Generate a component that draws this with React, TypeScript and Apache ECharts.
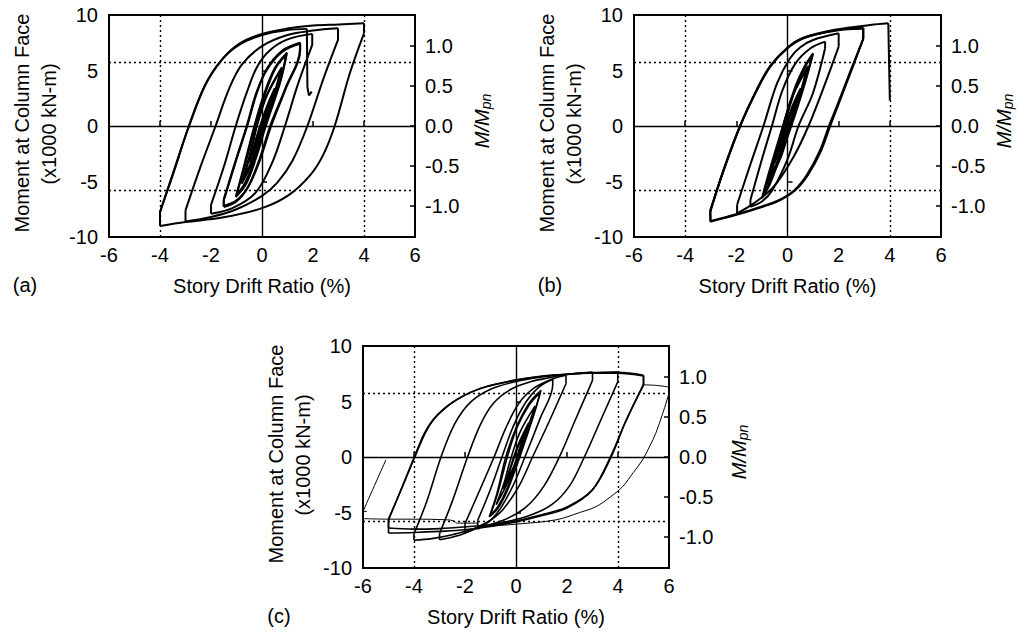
import React, { useEffect, useRef } from "react";
import * as echarts from "echarts";

// ---------- axis / reference values ----------
const X_TICKS = { min: -6, max: 6, interval: 2 };
const Y_TICKS = { min: -10, max: 10, interval: 5 };
const MPN = 7.2; // x1000 kN-m, moment that corresponds to M/Mpn = 1
const RIGHT_TICKS = [1.0, 0.5, 0.0, -0.5, -1.0];
const DOTTED_X = [-4, 4];
const DOTTED_RATIO = [0.8, -0.8];

// ---------- panel (a) ----------
const A_c0375 = [[-0.38,-2.5],[-0.12,-0.6],[0.1,1.0],[0.38,2.6],[0.12,0.7],[-0.1,-0.9],[-0.38,-2.5]];
const A_c05 = [[-0.5,-3.3],[-0.2,-0.9],[0.15,1.5],[0.5,3.4],[0.18,1.0],[-0.15,-1.3],[-0.5,-3.3]];
const A_c075a = [[-0.78,-5.0],[-0.45,-2.5],[-0.2,0],[0.2,2.8],[0.75,5.1],[0.45,2.6],[0.08,0],[-0.3,-2.6],[-0.78,-5.0]];
const A_c075b = [[-0.8,-5.2],[-0.5,-2.8],[-0.25,-0.3],[0.15,2.6],[0.78,5.3],[0.5,3.0],[0.12,0.2],[-0.28,-2.8],[-0.8,-5.2]];
const A_c1a = [[-1.03,-6.4],[-0.75,-4.0],[-0.3,0],[0.1,3.0],[0.5,5.2],[0.98,6.6],[0.72,4.0],[0.15,0],[-0.25,-3.0],[-0.62,-5.2],[-1.03,-6.4]];
const A_c1b = [[-1.0,-6.2],[-0.7,-3.8],[-0.26,0],[0.15,3.1],[0.55,5.3],[0.95,6.4],[0.68,3.8],[0.12,0],[-0.3,-3.1],[-0.66,-5.1],[-1.0,-6.2]];
const A_c15a = [[-1.5,-6.7],[-1.0,-3.0],[-0.58,0],[-0.2,3.0],[0.2,5.2],[0.8,6.8],[1.49,7.5],[1.49,7.0],[0.9,3.3],[0.32,0],[-0.1,-3.0],[-0.55,-5.5],[-1.0,-6.8],[-1.5,-7.3],[-1.5,-6.7]];
const A_c15b = [[-1.5,-6.6],[-1.02,-3.0],[-0.6,0],[-0.22,3.0],[0.2,5.1],[0.8,6.7],[1.5,7.4],[1.5,6.9],[0.92,3.3],[0.36,0],[-0.07,-3.0],[-0.52,-5.4],[-1.0,-6.7],[-1.5,-7.2],[-1.5,-6.6]];
const A_c2 = [[-2.0,-7.1],[-1.5,-3.7],[-1.03,0],[-0.6,3.0],[-0.2,5.3],[0.3,6.8],[1.0,7.8],[1.97,8.3],[1.97,7.3],[1.4,3.7],[0.9,0],[0.4,-3.3],[-0.25,-6.0],[-1.16,-7.4],[-2.0,-7.9],[-2.0,-7.1]];
const A_c3 = [[-3.0,-7.6],[-2.4,-3.6],[-1.82,0],[-1.3,3.3],[-0.8,5.5],[0,7.2],[1,8.2],[2,8.6],[2.98,8.8],[2.98,7.75],[2.4,4.2],[1.78,0],[1.2,-3.1],[0.6,-5.1],[0,-6.3],[-1,-7.5],[-2,-8.2],[-3.0,-8.6],[-3.0,-7.6]];
const A_c4 = [[-4.0,-7.75],[-3.5,-4.3],[-2.86,0],[-2.2,3.8],[-1.56,6.0],[-0.9,7.4],[0,8.3],[1.06,8.8],[2,9.05],[3,9.15],[4.0,9.25],[4.0,8.35],[3.45,4.8],[2.85,0],[2.4,-2.6],[1.9,-4.4],[1.06,-6.2],[0,-7.4],[-1.56,-8.25],[-3.0,-8.65],[-4.0,-9.0],[-4.0,-7.75]];
const A_final = [[-4.0,-7.75],[-3.45,-4.1],[-2.9,-0.2],[-2.25,3.6],[-1.6,5.9],[-0.9,7.3],[0,8.2],[1.0,8.65],[1.76,8.75],[1.78,3.5],[1.84,2.75],[1.95,3.1]];

// ---------- panel (b) ----------
const B_c0375 = [[-0.36,-2.4],[-0.1,-0.5],[0.12,1.1],[0.4,2.6],[0.14,0.6],[-0.08,-0.9],[-0.36,-2.4]];
const B_c05 = [[-0.5,-3.3],[-0.18,-0.8],[0.16,1.6],[0.52,3.4],[0.2,1.1],[-0.13,-1.3],[-0.5,-3.3]];
const B_c075a = [[-0.76,-5.0],[-0.42,-2.5],[-0.16,0],[0.22,2.8],[0.76,5.2],[0.46,2.6],[0.1,0],[-0.28,-2.6],[-0.76,-5.0]];
const B_c075b = [[-0.8,-5.3],[-0.48,-2.8],[-0.2,-0.3],[0.18,2.6],[0.8,5.4],[0.52,3.0],[0.14,0.2],[-0.26,-2.8],[-0.8,-5.3]];
const B_c1a = [[-1.0,-6.5],[-0.7,-4.0],[-0.18,0],[0.3,3.5],[0.65,5.3],[1.0,6.55],[0.7,4.0],[0.15,0],[-0.4,-3.5],[-0.7,-5.3],[-1.0,-6.5]];
const B_c1b = [[-0.96,-6.3],[-0.66,-3.9],[-0.14,0],[0.34,3.6],[0.68,5.3],[0.98,6.4],[0.66,3.9],[0.1,0],[-0.44,-3.5],[-0.72,-5.2],[-0.96,-6.3]];
const B_c15 = [[-1.45,-6.67],[-1.0,-3.0],[-0.61,0],[-0.2,3.2],[0.3,5.6],[0.9,7.0],[1.47,7.6],[1.47,7.0],[1.0,3.0],[0.43,0],[0.0,-3.0],[-0.6,-5.8],[-1.0,-6.8],[-1.45,-7.27],[-1.45,-6.67]];
const B_c2 = [[-1.97,-7.1],[-1.5,-3.8],[-0.94,0],[-0.41,3.84],[0.1,6.1],[0.5,7.1],[1.0,7.75],[2.0,8.35],[2.0,7.15],[1.5,4.0],[0.82,0],[0.24,-2.76],[-0.54,-5.47],[-1.32,-6.97],[-1.97,-7.87],[-1.97,-7.1]];
const B_c3a = [[-3.02,-7.72],[-2.5,-4.0],[-1.85,0],[-1.2,3.24],[-0.68,5.35],[0,7.0],[0.63,7.9],[1.93,8.65],[2.97,8.85],[2.97,7.9],[2.5,5.0],[2.0,2.0],[1.67,0],[1.3,-2.3],[0.8,-4.4],[0.3,-5.8],[-0.3,-6.7],[-1.0,-7.3],[-2.0,-8.0],[-3.02,-8.62],[-3.02,-7.72]];
const B_c3b = [[-3.02,-7.6],[-2.48,-3.9],[-1.83,0.1],[-1.18,3.3],[-0.66,5.4],[0,7.05],[0.63,7.95],[1.93,8.6],[2.95,8.75],[2.95,7.8],[2.45,4.9],[1.95,1.9],[1.62,0],[1.25,-2.3],[0.76,-4.4],[0.26,-5.8],[-0.32,-6.65],[-1.0,-7.25],[-2.0,-7.95],[-3.0,-8.55],[-3.02,-7.6]];
const B_final = [[-3.02,-7.72],[-2.5,-3.95],[-1.85,0.05],[-1.2,3.3],[-0.68,5.4],[0,7.05],[0.63,7.95],[1.93,8.7],[3.23,9.1],[3.94,9.25],[4.0,2.3]];

// ---------- panel (c) ----------
const C_c0375 = [[-0.38,-2.2],[-0.15,-0.6],[0.1,1.0],[0.38,2.4],[0.12,0.6],[-0.1,-0.9],[-0.38,-2.2]];
const C_c05 = [[-0.5,-2.9],[-0.22,-0.9],[0.12,1.3],[0.5,3.1],[0.2,1.0],[-0.12,-1.2],[-0.5,-2.9]];
const C_c075 = [[-0.78,-4.3],[-0.45,-2.2],[-0.25,-0.5],[0.15,2.2],[0.75,4.6],[0.45,2.6],[0.1,0.2],[-0.3,-2.2],[-0.78,-4.3]];
const C_c1a = [[-1.05,-5.4],[-0.75,-3.3],[-0.4,0],[0.0,2.6],[0.5,4.8],[0.98,6.0],[0.7,3.8],[0.15,0],[-0.3,-2.8],[-0.7,-4.6],[-1.05,-5.4]];
const C_c1b = [[-1.0,-5.2],[-0.7,-3.1],[-0.34,0],[0.05,2.7],[0.52,4.7],[0.95,5.8],[0.66,3.6],[0.1,0],[-0.34,-2.8],[-0.72,-4.5],[-1.0,-5.2]];
const C_c15 = [[-1.5,-5.7],[-1.0,-2.9],[-0.55,0],[-0.1,2.8],[0.4,5.0],[0.9,6.3],[1.44,7.0],[1.44,6.5],[0.95,3.5],[0.35,0],[-0.1,-2.5],[-0.6,-4.6],[-1.0,-5.7],[-1.5,-6.5],[-1.5,-5.7]];
const C_c2 = [[-2.0,-6.0],[-1.5,-3.4],[-0.86,0],[-0.4,2.6],[0.1,4.8],[0.7,6.2],[1.4,7.0],[1.96,7.37],[1.96,6.6],[1.3,3.2],[0.65,0],[0.1,-2.7],[-0.5,-4.7],[-1.0,-5.7],[-1.5,-6.3],[-2.0,-6.86],[-2.0,-6.0]];
const C_c3 = [[-3.0,-6.9],[-2.5,-4.0],[-1.9,0],[-1.4,2.9],[-0.9,4.8],[-0.2,6.1],[0.6,6.8],[1.44,7.2],[2.2,7.5],[3.0,7.66],[3.0,6.9],[2.3,3.2],[1.7,0],[1.1,-2.6],[0.4,-4.5],[-0.5,-5.7],[-1.5,-6.4],[-2.3,-7.1],[-3.0,-7.46],[-3.0,-6.9]];
const C_c4 = [[-4.0,-6.9],[-3.5,-4.0],[-2.94,0],[-2.4,3.0],[-1.8,4.9],[-1.0,6.1],[0,6.8],[1.0,7.2],[2.0,7.45],[3.0,7.6],[3.99,7.66],[3.99,6.77],[3.3,3.2],[2.68,0],[2.1,-2.6],[1.4,-4.3],[0.5,-5.3],[-0.5,-5.9],[-1.5,-6.4],[-2.5,-7.0],[-3.3,-7.35],[-4.0,-7.5],[-4.0,-6.9]];
const C_c5a = [[-5.0,-5.66],[-4.5,-2.9],[-3.99,0],[-3.6,2.1],[-3.27,3.32],[-2.8,4.4],[-2.35,5.12],[-1.8,5.8],[-1.18,6.32],[0,6.92],[0.8,7.2],[1.57,7.37],[2.88,7.57],[3.99,7.62],[5.0,7.37],[5.0,6.47],[4.3,3.2],[3.73,0],[3.0,-2.96],[2.0,-4.5],[1.0,-5.2],[0,-5.75],[-1.0,-6.1],[-2.0,-6.3],[-3.0,-6.45],[-4.0,-6.5],[-5.0,-6.4],[-5.0,-5.66]];
const C_c5b = [[-5.0,-5.6],[-4.48,-2.8],[-3.95,0.1],[-3.55,2.2],[-3.22,3.4],[-2.75,4.45],[-2.3,5.2],[-1.75,5.85],[-1.15,6.36],[0,6.95],[0.8,7.22],[1.57,7.4],[2.88,7.55],[3.99,7.55],[5.0,7.3],[5.0,6.55],[4.28,3.1],[3.7,0],[2.98,-3.0],[2.0,-4.6],[1.0,-5.3],[0,-5.85],[-1.0,-6.25],[-2.0,-6.55],[-3.0,-6.7],[-4.0,-6.8],[-5.0,-6.85],[-5.0,-5.6]];
const C_post1 = [[5.0,6.5],[5.5,6.45],[6.0,6.3]];
const C_post2 = [[-1.5,-6.3],[0,-6.05],[1.57,-5.66],[2.5,-5.0],[3.14,-4.47],[3.7,-3.6],[4.18,-2.67],[4.6,-1.4],[4.96,-0.27],[5.25,1.0],[5.48,2.13],[5.75,3.9],[6.0,5.72]];
const C_flat = [[-1.5,-5.96],[-2.3,-5.96],[-2.45,-5.75],[-2.7,-5.66],[-4.0,-5.6],[-5.0,-5.6],[-6.0,-5.55]];
const C_return = [[-5.85,-4.9],[-6.0,-4.9],[-5.1,-0.25]];

const PANELS = [
  { label: "(a)", thick: [A_c0375, A_c05, A_c075a, A_c075b, A_c1a, A_c1b, A_c15a, A_c15b, A_c2, A_c3, A_c4, A_final], thin: [] as number[][][], width: 2 },
  { label: "(b)", thick: [B_c0375, B_c05, B_c075a, B_c075b, B_c1a, B_c1b, B_c15, B_c2, B_c3a, B_c3b, B_final], thin: [] as number[][][], width: 2 },
  { label: "(c)", thick: [C_c0375, C_c05, C_c075, C_c1a, C_c1b, C_c15, C_c2, C_c3, C_c4, C_c5a, C_c5b], thin: [C_post1, C_post2, C_flat, C_return], width: 1.6 },
];

// layout (pixels)
const GRIDS = [
  { left: 109, top: 15, width: 306, height: 222 },
  { left: 634, top: 15, width: 307, height: 222 },
  { left: 363, top: 346, width: 306, height: 222 },
];
const RIGHT_TITLE_X = [482, 1004, 739];

const FONT = "'Liberation Sans', Arial, Helvetica, sans-serif";

// split a recorded path at its near-vertical unloading drops so branches can be smoothed
function splitPath(path: number[][]): { pts: number[][]; straight: boolean }[] {
  const out: { pts: number[][]; straight: boolean }[] = [];
  let cur: number[][] = [path[0]];
  for (let i = 1; i < path.length; i++) {
    const a = path[i - 1], b = path[i];
    const jump = Math.abs(b[0] - a[0]) < 0.1 && Math.abs(b[1] - a[1]) > 0.5;
    if (jump) {
      if (cur.length > 1) out.push({ pts: cur, straight: false });
      out.push({ pts: [a, b], straight: true });
      cur = [b];
    } else {
      cur.push(b);
    }
  }
  if (cur.length > 1) out.push({ pts: cur, straight: false });
  return out;
}

export default function App() {
  const ref = useRef<HTMLDivElement>(null);
  useEffect(() => {
    if (!ref.current) return;
    const chart = echarts.init(ref.current, undefined, { renderer: "svg" });
    const labelStyle = { fontSize: 20, color: "#000", fontFamily: FONT };
    const tickStyle = { inside: true, length: 5, lineStyle: { color: "#000", width: 1.5 } };
    const rightVals = RIGHT_TICKS.map((r) => r * MPN);

    const grid: any[] = [];
    const xAxis: any[] = [];
    const yAxis: any[] = [];
    const series: any[] = [];
    const graphic: any[] = [];

    GRIDS.forEach((g, i) => {
      grid.push({ ...g, show: true, borderColor: "#000", borderWidth: 2, backgroundColor: "transparent", containLabel: false });
      xAxis.push({
        type: "value", gridIndex: i, ...X_TICKS,
        axisLine: { show: false }, axisTick: tickStyle, splitLine: { show: false },
        axisLabel: { ...labelStyle, margin: 8 },
      });
      yAxis.push({
        type: "value", gridIndex: i, position: "left", ...Y_TICKS,
        axisLine: { show: false }, axisTick: tickStyle, splitLine: { show: false },
        axisLabel: { ...labelStyle, margin: 11 },
      });
      yAxis.push({
        type: "value", gridIndex: i, position: "right", min: Y_TICKS.min, max: Y_TICKS.max,
        axisLine: { show: false }, splitLine: { show: false },
        axisTick: { ...tickStyle, customValues: rightVals },
        axisLabel: { ...labelStyle, margin: 10, customValues: rightVals, formatter: (v: number) => (Math.round((v / MPN) * 10) / 10).toFixed(1) },
      });

      const p = PANELS[i];
      const dotted = { type: [2, 3], color: "#000", width: 1.4 };
      const solid = { type: "solid", color: "#000", width: 1.4 };
      series.push({
        type: "line", xAxisIndex: i, yAxisIndex: i * 2, data: [], symbol: "none",
        markLine: {
          silent: true, symbol: ["none", "none"], label: { show: false }, animation: false,
          data: [
            ...DOTTED_X.map((x) => ({ xAxis: x, lineStyle: dotted })),
            ...DOTTED_RATIO.map((r) => ({ yAxis: r * MPN, lineStyle: dotted })),
            { xAxis: 0, lineStyle: solid },
            { yAxis: 0, lineStyle: solid },
          ],
        },
      });
      const addPath = (d: number[][], width: number) => {
        splitPath(d).forEach((piece) => {
          series.push({
            type: "line", xAxisIndex: i, yAxisIndex: i * 2, data: piece.pts, symbol: "none", showSymbol: false,
            smooth: piece.straight ? false : 0.35,
            lineStyle: { color: "#000", width }, silent: true, clip: true, z: 3,
          });
        });
      };
      p.thick.forEach((d) => addPath(d, p.width));
      p.thin.forEach((d) => addPath(d, 1));

      const cx = g.left + g.width / 2;
      const cy = g.top + g.height / 2;
      const bottom = g.top + g.height;
      graphic.push(
        { type: "text", x: g.left - 87, y: cy - 3, rotation: Math.PI / 2, style: { text: "Moment at Column Face", font: `20px ${FONT}`, fill: "#000", align: "center", verticalAlign: "middle" } },
        { type: "text", x: g.left - 60, y: cy - 2, rotation: Math.PI / 2, style: { text: "(x1000 kN-m)", font: `20px ${FONT}`, fill: "#000", align: "center", verticalAlign: "middle" } },
        {
          type: "text", x: RIGHT_TITLE_X[i], y: cy - 5, rotation: Math.PI / 2,
          style: {
            text: "{m|M/M}{s|pn}", align: "center", verticalAlign: "middle", fill: "#000",
            rich: {
              m: { fontFamily: FONT, fontSize: 20, fontStyle: "italic", lineHeight: 22, verticalAlign: "middle", fill: "#000" },
              s: { fontFamily: FONT, fontSize: 14, fontStyle: "italic", lineHeight: 11, verticalAlign: "bottom", fill: "#000" },
            },
          },
        },
        { type: "text", x: cx, y: bottom + 49, style: { text: "Story Drift Ratio (%)", font: `20px ${FONT}`, fill: "#000", align: "center", verticalAlign: "middle" } },
        { type: "text", x: g.left - 84, y: bottom + 48, style: { text: p.label, font: `20px ${FONT}`, fill: "#000", align: "center", verticalAlign: "middle" } },
      );
    });

    chart.setOption({ animation: false, backgroundColor: "#fff", grid, xAxis, yAxis, series, graphic });
    return () => chart.dispose();
  }, []);
  return <div ref={ref} style={{ position: "fixed", left: 0, top: 0, width: 1019, height: 633 }} />;
}
